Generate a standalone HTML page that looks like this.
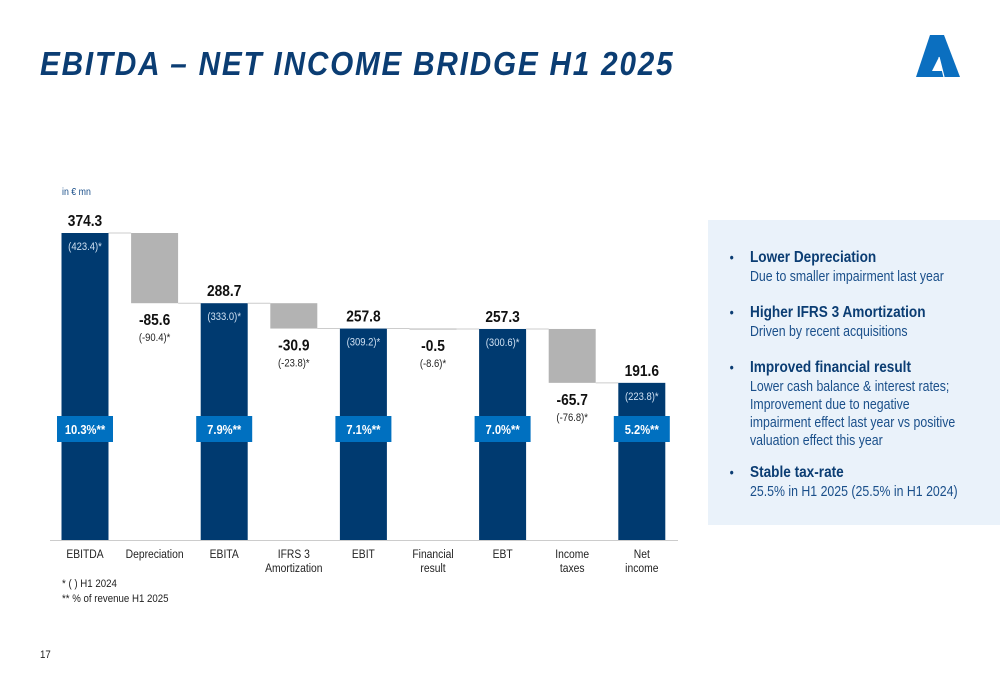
<!DOCTYPE html>
<html><head><meta charset="utf-8">
<style>
html,body{margin:0;padding:0;background:#fff;}
body{width:1000px;height:685px;position:relative;overflow:hidden;font-family:"Liberation Sans",sans-serif;}
#title{position:absolute;left:40px;top:45px;font-family:"Liberation Sans",sans-serif;font-weight:bold;font-style:italic;font-size:33px;letter-spacing:2px;color:#0b3d73;margin:0;transform:scaleX(0.9);transform-origin:0 0;white-space:nowrap;}
#panel{position:absolute;left:708px;top:220px;width:292px;height:305px;background:#eaf2fa;}
.item{position:absolute;left:42px;color:#0b3d73;font-size:14.5px;line-height:18px;transform:scaleX(0.85);transform-origin:0 0;white-space:nowrap;}
.item b{font-size:16px;display:block;line-height:20px;}
.item span{color:#1a4f8a;}
.bul{position:absolute;left:-24px;top:0;font-size:14px;font-style:normal;}
.small{position:absolute;font-size:11px;color:#222;transform:scaleX(0.88);transform-origin:0 0;white-space:nowrap;}
</style></head><body>
<h1 id="title">EBITDA – NET INCOME BRIDGE H1 2025</h1>
<svg style="position:absolute;left:914px;top:35px" width="48" height="42" viewBox="0 0 48 42">
<polygon points="16,0 30,0 46,42 2,42" fill="#0b6fc0"/>
<polygon points="18,36 28,36 25,22" fill="#fff"/>
<line x1="25" y1="22" x2="30" y2="42" stroke="#fff" stroke-width="1.2"/>
</svg>
<div class="small" style="left:62px;top:187px;font-size:10px;color:#1a4f8a">in € mn</div>
<svg id="chart" style="position:absolute;left:0;top:0" width="700" height="590"></svg>
<div class="small" style="left:62px;top:578px">* (  ) H1 2024</div>
<div class="small" style="left:62px;top:593px">** % of revenue H1 2025</div>
<div class="small" style="left:40px;top:649px">17</div>
<div id="panel">
<div class="item" style="top:28px"><i class="bul">•</i><b>Lower Depreciation</b><span>Due to smaller impairment last year</span></div>
<div class="item" style="top:83px"><i class="bul">•</i><b>Higher IFRS 3 Amortization</b><span>Driven by recent acquisitions</span></div>
<div class="item" style="top:138px"><i class="bul">•</i><b>Improved financial result</b><span>Lower cash balance &amp; interest rates;<br>Improvement due to negative<br>impairment effect last year vs positive<br>valuation effect this year</span></div>
<div class="item" style="top:243px"><i class="bul">•</i><b>Stable tax-rate</b><span>25.5% in H1 2025 (25.5% in H1 2024)</span></div>
</div>
<script>
const categories=[["EBITDA"],["Depreciation"],["EBITA"],["IFRS 3","Amortization"],["EBIT"],["Financial","result"],["EBT"],["Income","taxes"],["Net","income"]];
const values=[374.3,-85.6,288.7,-30.9,257.8,-0.5,257.3,-65.7,191.6];
const isTotal=[true,false,true,false,true,false,true,false,true];
const priorLabels=["(423.4)*","(-90.4)*","(333.0)*","(-23.8)*","(309.2)*","(-8.6)*","(300.6)*","(-76.8)*","(223.8)*"];
const marginLabels=["10.3%**","","7.9%**","","7.1%**","","7.0%**","","5.2%**"];
const NS="http://www.w3.org/2000/svg";
const svg=document.getElementById('chart');
const base=540,scale=307/374.3,x0=85,step=69.6,bw=47;
const y=v=>base-v*scale;
const xc=i=>x0+i*step;
function mk(tag,a){const e=document.createElementNS(NS,tag);for(const k in a)e.setAttribute(k,a[k]);svg.appendChild(e);return e;}
function txt(x,yy,s,size,fill,weight){const t=mk('text',{x:0,y:0,transform:'translate('+x+','+yy+') scale(0.86,1)','font-size':size,fill:fill,'font-weight':weight||'normal','text-anchor':'middle','font-family':'"Liberation Sans",sans-serif'});t.textContent=s;return t;}
const ax=mk('line',{x1:50,x2:678,y1:base+0.5,y2:base+0.5,stroke:'#ccc','stroke-width':1});

let run=0;
values.forEach((v,i)=>{
  let top,bot;
  if(isTotal[i]){run=v;top=y(v);bot=base;}
  else{const prev=run;run=prev+v;top=y(prev);bot=y(run);}
  const r=mk('rect',{x:xc(i)-bw/2,y:top,width:bw,height:Math.max(1,bot-top),fill:isTotal[i]?'#003a70':'#b3b3b3'});
  
  
  if(i<values.length-1){const c=mk('line',{x1:xc(i)+bw/2,x2:xc(i+1)-bw/2,y1:isTotal[i]?top:bot,y2:isTotal[i]?top:bot,stroke:'#ccc','stroke-width':1});
    }
  if(isTotal[i]){
    const t=txt(xc(i),top-7,v.toFixed(1),16,'#111','bold');
    const p=txt(xc(i),top+17,priorLabels[i],11,'#cfe0f2');
    const b=mk('rect',{x:xc(i)-28,y:416,width:56,height:26,fill:'#0070c0'});
    const m=txt(xc(i),434,marginLabels[i],13,'#fff','bold');
  }else{
    const t=txt(xc(i),bot+22,v.toFixed(1),16,'#111','bold');
    const p=txt(xc(i),bot+38,priorLabels[i],11,'#222');
  }
  categories[i].forEach((s,k)=>{const c=txt(xc(i),558+k*14,s,12,'#222');});
});
</script>
</body></html>
